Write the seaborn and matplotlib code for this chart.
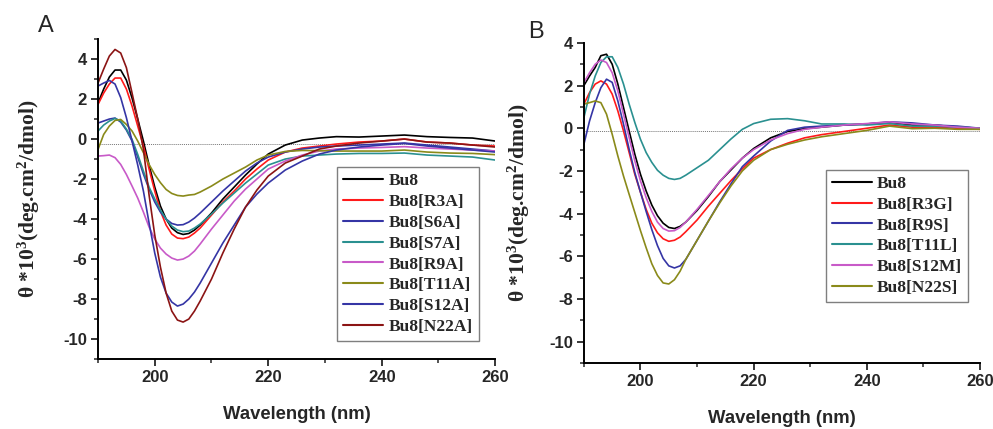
import matplotlib
matplotlib.use("Agg")
import matplotlib.pyplot as plt
import pandas as pd
import seaborn as sns
from matplotlib.ticker import MultipleLocator
from matplotlib.font_manager import FontProperties

# ---------------- data ----------------
WL = [190, 191, 192, 193, 194, 195, 196, 197, 198, 199, 200, 201, 202, 203, 204,
      205, 206, 207, 208, 210, 212, 214, 216, 218, 220, 223, 226, 229, 232, 236,
      240, 244, 248, 252, 256, 260]

A_LABELS = ["Bu8", "Bu8[R3A]", "Bu8[S6A]", "Bu8[S7A]", "Bu8[R9A]",
            "Bu8[T11A]", "Bu8[S12A]", "Bu8[N22A]"]
A_COLORS = ["#000000", "#ff1a1a", "#3535a5", "#2a9090", "#c85ac8",
            "#8a8a1a", "#3535a5", "#8b1414"]

A_BU8 = [1.8, 2.5, 3.1, 3.45, 3.45, 2.95, 2.05, 1.0, -0.1, -1.3, -2.4, -3.35, -4.0,
         -4.45, -4.68, -4.77, -4.72, -4.55, -4.3, -3.7, -3.0, -2.4, -1.8, -1.25, -0.75,
         -0.3, -0.05, 0.05, 0.12, 0.1, 0.15, 0.2, 0.12, 0.08, 0.05, -0.1]
A_R3A = [1.73, 2.3, 2.75, 3.05, 3.05, 2.5, 1.65, 0.65, -0.35, -1.5, -2.6, -3.6, -4.3,
         -4.75, -4.95, -4.98, -4.9, -4.7, -4.45, -3.8, -3.15, -2.6, -2.0, -1.5, -1.05,
         -0.65, -0.45, -0.35, -0.25, -0.15, -0.1, 0.0, -0.15, -0.2, -0.3, -0.35]
A_S6A = [0.8, 0.9, 1.0, 1.05, 0.85, 0.45, -0.1, -0.9, -1.75, -2.5, -3.15, -3.65, -4.0,
         -4.22, -4.3, -4.28, -4.15, -3.95, -3.7, -3.15, -2.6, -2.1, -1.6, -1.2, -0.9,
         -0.65, -0.5, -0.4, -0.35, -0.3, -0.25, -0.2, -0.3, -0.4, -0.5, -0.6]
A_S7A = [0.4, 0.7, 0.9, 1.03, 0.9, 0.5, -0.02, -0.77, -1.6, -2.4, -3.0, -3.55, -4.0,
         -4.35, -4.55, -4.63, -4.6, -4.45, -4.25, -3.75, -3.2, -2.7, -2.2, -1.75, -1.3,
         -1.0, -0.85, -0.8, -0.75, -0.72, -0.72, -0.7, -0.8, -0.85, -0.9, -1.05]
A_R9A = [-0.85, -0.83, -0.8, -0.93, -1.27, -1.77, -2.35, -2.95, -3.65, -4.4, -5.0,
         -5.45, -5.75, -5.95, -6.05, -6.0, -5.85, -5.6, -5.25, -4.5, -3.8, -3.1, -2.5,
         -2.0, -1.5, -1.1, -0.8, -0.6, -0.5, -0.45, -0.42, -0.38, -0.45, -0.5, -0.55, -0.6]
A_T11A = [-0.52, 0.23, 0.65, 0.93, 0.98, 0.73, 0.4, -0.1, -0.68, -1.27, -1.77, -2.18,
          -2.52, -2.72, -2.82, -2.85, -2.8, -2.77, -2.65, -2.35, -2.0, -1.7, -1.4, -1.05,
          -0.8, -0.62, -0.57, -0.58, -0.6, -0.6, -0.6, -0.55, -0.65, -0.7, -0.72, -0.78]
A_S12A = [2.65, 2.8, 2.93, 2.75, 2.07, 1.07, -0.1, -1.3, -2.6, -4.2, -5.7, -6.9, -7.7,
          -8.15, -8.35, -8.25, -8.0, -7.65, -7.2, -6.2, -5.2, -4.3, -3.4, -2.75, -2.2,
          -1.55, -1.1, -0.75, -0.55, -0.4, -0.3, -0.22, -0.35, -0.45, -0.55, -0.65]
A_N22A = [2.8, 3.5, 4.15, 4.48, 4.3, 3.57, 2.3, 1.0, -0.5, -2.8, -4.8, -6.4, -7.7,
          -8.6, -9.05, -9.15, -9.0, -8.6, -8.1, -7.0, -5.7, -4.5, -3.4, -2.55, -1.85,
          -1.2, -0.85, -0.5, -0.35, -0.2, -0.1, 0.0, -0.15, -0.2, -0.3, -0.4]
A_SERIES = [A_BU8, A_R3A, A_S6A, A_S7A, A_R9A, A_T11A, A_S12A, A_N22A]

B_LABELS = ["Bu8", "Bu8[R3G]", "Bu8[R9S]", "Bu8[T11L]", "Bu8[S12M]", "Bu8[N22S]"]
B_COLORS = ["#000000", "#ff1a1a", "#3535a5", "#2a9090", "#c85ac8", "#8a8a1a"]

B_BU8 = [2.0, 2.45, 2.85, 3.4, 3.47, 3.0, 2.07, 0.97, -0.13, -1.22, -2.16, -2.94, -3.6,
         -4.1, -4.45, -4.65, -4.7, -4.6, -4.4, -3.85, -3.2, -2.5, -1.95, -1.4, -0.95,
         -0.45, -0.15, -0.02, 0.05, 0.15, 0.2, 0.28, 0.15, 0.15, 0.05, 0.0]
B_R3G = [1.13, 1.67, 2.07, 2.22, 2.07, 1.6, 0.81, -0.13, -1.14, -2.16, -3.0, -3.8,
         -4.45, -4.9, -5.18, -5.3, -5.25, -5.1, -4.85, -4.3, -3.65, -3.05, -2.45, -1.9,
         -1.4, -1.0, -0.7, -0.45, -0.3, -0.15, 0.0, 0.15, 0.05, 0.05, 0.0, -0.05]
B_R9S = [-0.75, 0.34, 1.2, 1.9, 2.3, 2.15, 1.28, 0.19, -0.99, -2.08, -3.0, -3.9, -4.75,
         -5.5, -6.1, -6.45, -6.55, -6.45, -6.15, -5.25, -4.35, -3.45, -2.6, -1.8, -1.3,
         -0.6, -0.1, 0.05, 0.1, 0.15, 0.2, 0.3, 0.25, 0.15, 0.1, 0.0]
B_T11L = [0.5, 1.6, 2.45, 3.08, 3.35, 3.35, 2.85, 2.07, 1.13, 0.27, -0.52, -1.14, -1.6,
          -1.97, -2.2, -2.35, -2.4, -2.35, -2.2, -1.85, -1.5, -1.0, -0.5, -0.05, 0.22,
          0.42, 0.45, 0.35, 0.2, 0.2, 0.15, 0.22, 0.1, 0.1, 0.05, 0.0]
B_S12M = [2.14, 2.6, 3.0, 3.2, 3.08, 2.6, 1.75, 0.66, -0.44, -1.53, -2.47, -3.25, -3.9,
          -4.4, -4.7, -4.82, -4.8, -4.65, -4.4, -3.8, -3.15, -2.5, -1.9, -1.4, -1.0,
          -0.55, -0.25, -0.05, 0.05, 0.15, 0.22, 0.3, 0.2, 0.15, 0.05, 0.0]
B_N22S = [1.13, 1.2, 1.28, 1.2, 0.66, -0.28, -1.3, -2.24, -3.1, -3.95, -4.8, -5.6,
          -6.35, -6.9, -7.25, -7.3, -7.1, -6.7, -6.15, -5.25, -4.35, -3.5, -2.7, -2.0,
          -1.5, -1.0, -0.75, -0.55, -0.4, -0.25, -0.1, 0.1, -0.02, 0.0, -0.05, -0.05]
B_SERIES = [B_BU8, B_R3G, B_R9S, B_T11L, B_S12M, B_N22S]

A_BASELINE = -0.25
B_BASELINE = -0.15
A_YLIM = (-11, 5)
B_YLIM = (-11, 4)
XLIM = (190, 260)

YLABEL = r"θ *10$^{\mathbf{3}}$(deg.cm$^{\mathbf{2}}$/dmol)"

# ---------------- style ----------------
sns.set_style("ticks")
plt.rcParams['font.family'] = ['Liberation Sans', 'DejaVu Sans']
plt.rcParams['axes.unicode_minus'] = False
plt.rcParams['mathtext.fontset'] = 'custom'
plt.rcParams['mathtext.bf'] = 'Liberation Serif:bold'
plt.rcParams['mathtext.rm'] = 'Liberation Serif:bold'
plt.rcParams['mathtext.it'] = 'Liberation Serif:bold'

fig = plt.figure(figsize=(9.93, 4.29), dpi=100)
axA = fig.add_axes([0.0987, 0.163, 0.400, 0.746])
axB = fig.add_axes([0.588, 0.154, 0.399, 0.746])

serif_bold = dict(family=['Liberation Serif', 'DejaVu Serif'], weight='bold')


def draw(ax, labels, colors, series, baseline, ylim, leg_anchor, ylab_x):
    rows = []
    for lab, vals in zip(labels, series):
        for w, v in zip(WL, vals):
            rows.append({"wl": w, "theta": v, "sample": lab})
    df = pd.DataFrame(rows)
    pal = dict(zip(labels, colors))
    sns.lineplot(data=df, x="wl", y="theta", hue="sample", hue_order=labels,
                 palette=pal, estimator=None, sort=False, linewidth=1.2, ax=ax)
    ax.axhline(baseline, color="#777777", ls=(0, (1, 1)), lw=0.7, zorder=0)
    ax.set_xlim(*XLIM)
    ax.set_ylim(*ylim)
    ax.xaxis.set_major_locator(MultipleLocator(20))
    ax.xaxis.set_minor_locator(MultipleLocator(10))
    ax.yaxis.set_major_locator(MultipleLocator(2))
    ax.yaxis.set_minor_locator(MultipleLocator(1))
    for s in ["top", "right"]:
        ax.spines[s].set_visible(False)
    for s in ["left", "bottom"]:
        ax.spines[s].set_linewidth(1.4)
        ax.spines[s].set_color("black")
    ax.tick_params(which="major", direction="out", length=5, width=1.3,
                   labelsize=12, pad=3)
    ax.tick_params(which="minor", direction="out", length=3, width=1.1)
    for t in ax.get_xticklabels() + ax.get_yticklabels():
        t.set_fontweight("bold")
    ax.set_xlabel("Wavelength (nm)", fontsize=13.3, fontweight="bold", labelpad=15)
    ax.set_ylabel(YLABEL, fontsize=15.5, **serif_bold)
    ax.yaxis.set_label_coords(ylab_x, 0.5)
    handles, labs = ax.get_legend_handles_labels()
    leg = ax.legend(handles, labs, loc="lower left", bbox_to_anchor=leg_anchor,
                    borderaxespad=0, prop=FontProperties(size=12.5, **serif_bold),
                    frameon=True, fancybox=False, edgecolor="#7f7f7f",
                    framealpha=1, handlelength=2.3, handletextpad=0.3,
                    labelspacing=0.27, borderpad=0.35)
    leg.get_frame().set_linewidth(1.0)
    for line in leg.get_lines():
        line.set_linewidth(1.5)


draw(axA, A_LABELS, A_COLORS, A_SERIES, A_BASELINE, A_YLIM, (0.602, 0.056), -0.14)
draw(axB, B_LABELS, B_COLORS, B_SERIES, B_BASELINE, B_YLIM, (0.611, 0.19), -0.13)

fig.text(0.0383, 0.925, "A", fontsize=17, va="baseline", ha="left")
fig.text(0.5317, 0.9114, "B", fontsize=17, va="baseline", ha="left")

fig.savefig("out.png", dpi=100)
